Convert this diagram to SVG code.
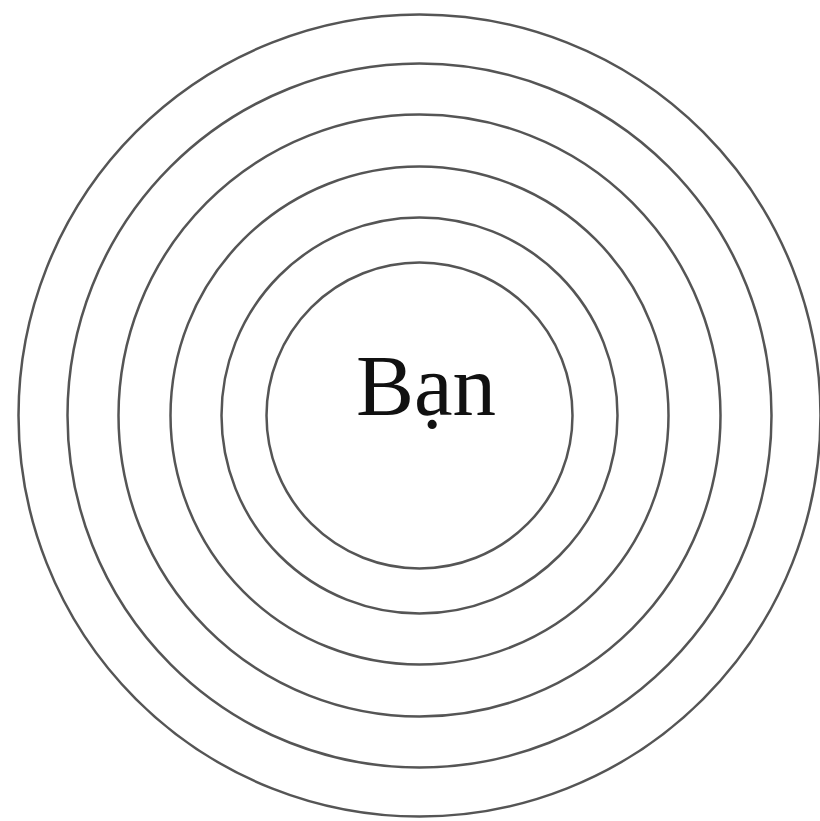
<svg xmlns="http://www.w3.org/2000/svg" width="820" height="821" viewBox="0 0 820 821">
<style>
.ring{fill:none;stroke:#555;stroke-width:2.5}
.lbl{font-family:"Liberation Serif","Times New Roman",serif;font-size:87px;fill:#111}
</style>
<rect width="820" height="821" fill="#fff"/>
<g id="rings">
<circle class="ring" cx="419.5" cy="415.5" r="401"/>
<circle class="ring" cx="419.5" cy="415.5" r="352"/>
<circle class="ring" cx="419.5" cy="415.5" r="301"/>
<circle class="ring" cx="419.5" cy="415.5" r="249"/>
<circle class="ring" cx="419.5" cy="415.5" r="198"/>
<circle class="ring" cx="419.5" cy="415.5" r="153"/>
</g>
<g id="center"><text class="lbl" x="426" y="415" text-anchor="middle">Bạn</text></g>
</svg>
